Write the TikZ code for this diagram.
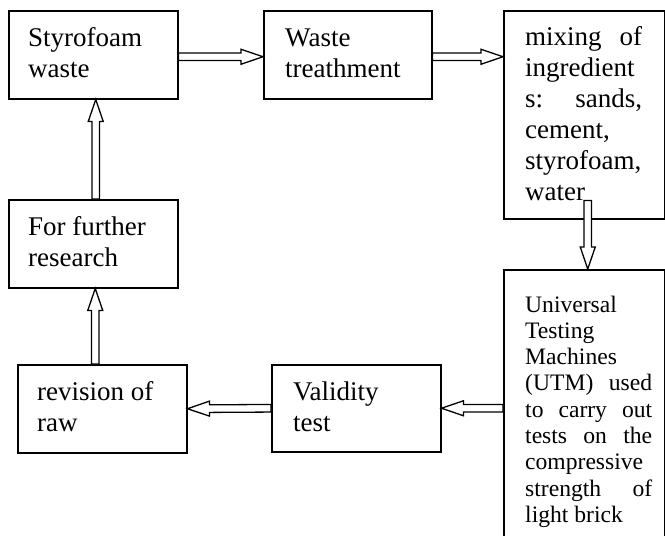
\documentclass[tikz,border=0pt]{standalone}
\usepackage{fontspec}
\setmainfont{Liberation Serif}
\usetikzlibrary{calc}
\tikzset{
  box/.style={draw, line width=1.5pt, rectangle, inner sep=0pt, anchor=north west},
  bigtxt/.style={inner sep=0pt, anchor=base west, font=\fontsize{27pt}{31pt}\selectfont},
  smalltxt/.style={inner sep=0pt, anchor=base west, font=\fontsize{23.6pt}{26.3pt}\selectfont},
  hollow/.style={draw, line width=1.3pt, fill=white, line join=miter},
}
\newcommand\hollowarrow[2]{%
  \coordinate (hA) at (#1);
  \coordinate (hB) at (#2);
  \coordinate (hH) at ($(hB)!22pt!(hA)$);
  \draw[hollow] ($(hA)!3.8pt!90:(hB)$) -- ($(hH)!3.8pt!-90:(hA)$) -- ($(hH)!7.5pt!-90:(hA)$)
    -- (hB) -- ($(hH)!7.5pt!90:(hA)$) -- ($(hH)!3.8pt!90:(hA)$) -- ($(hA)!3.8pt!-90:(hB)$) -- cycle;
}
\begin{document}
\begin{tikzpicture}[x=1pt, y=-1pt]
\useasboundingbox (0,0) rectangle (665,536);
\fill[white] (0,0) rectangle (665,536);
\clip (0,0) rectangle (665,536);
% boxes
\node[box, minimum width=169pt, minimum height=88pt] (sw) at (8,10) {};
\node[box, minimum width=168pt, minimum height=88pt] (wt) at (263,10) {};
\node[box, minimum width=160.5pt, minimum height=208pt] (mix) at (503,10) {};
\node[box, minimum width=169pt, minimum height=88pt] (fr) at (8,199) {};
\node[box, minimum width=169pt, minimum height=88pt] (rev) at (17,364) {};
\node[box, minimum width=169pt, minimum height=87pt] (val) at (271,364) {};
\node[box, minimum width=160.5pt, minimum height=300pt] (utm) at (503,269) {};
% texts
\node[bigtxt] (t1) at (28,46) {\parbox[t]{140pt}{Styrofoam\\waste}};
\node[bigtxt] (t2) at (285,46) {\parbox[t]{140pt}{Waste\\treathment}};
\node[bigtxt] (t3) at (525,45) {\parbox[t]{117pt}{\makebox[117pt][s]{mixing of}\\ingredient\\\makebox[117pt][s]{s: sands,}\\cement,\\styrofoam,\\water}};
\node[bigtxt] (t4) at (28,235) {\parbox[t]{140pt}{For further\\research}};
\node[bigtxt] (t5) at (37,400) {\parbox[t]{140pt}{revision of\\raw}};
\node[bigtxt] (t6) at (293,400) {\parbox[t]{140pt}{Validity\\test}};
\node[smalltxt] (t7) at (525,312) {\parbox[t]{127pt}{Universal\\Testing\\Machines\\\makebox[127pt][s]{(UTM) used}\\\makebox[127pt][s]{to carry out}\\\makebox[127pt][s]{tests on the}\\compressive\\\makebox[127pt][s]{strength of}\\light brick}};
% connectors
\coordinate (a0) at ($(sw.east)+(0,2)$);
\coordinate (b0) at ($(wt.east)+(0,2)$);
\coordinate (c0) at ($(mix.south)+(3.75,-19)$);
\coordinate (f0) at ($(fr.south)+(2,0)$);
\coordinate (g0) at ($(sw.south)+(2.5,0)$);
\hollowarrow{a0}{a0 -| wt.west}
\hollowarrow{b0}{b0 -| mix.west}
\hollowarrow{c0}{c0 |- utm.north}
\hollowarrow{val.east -| utm.west}{val.east}
\hollowarrow{val.west}{rev.east}
\hollowarrow{f0 |- rev.north}{f0}
\hollowarrow{g0 |- fr.north}{g0}
\end{tikzpicture}
\end{document}
